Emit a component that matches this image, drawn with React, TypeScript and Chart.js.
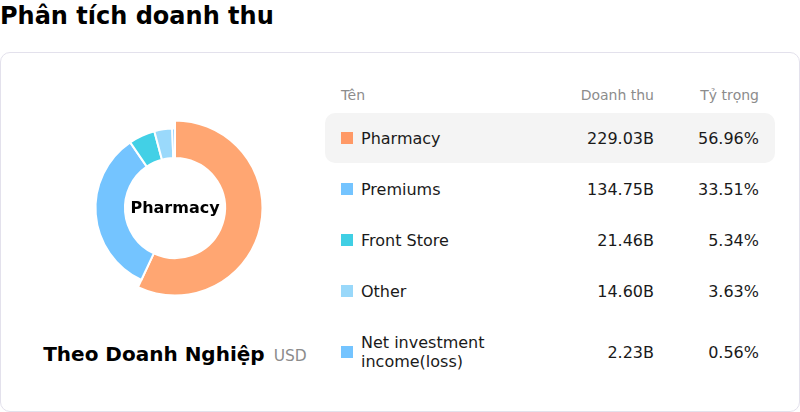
import React, { useEffect, useRef } from "react";
import Chart from "chart.js/auto";

const segments = ["Pharmacy", "Premiums", "Front Store", "Other", "Net investment income(loss)"];
const revenue = [229.03, 134.75, 21.46, 14.6, 2.23];
const revenueLabels = ["229.03B", "134.75B", "21.46B", "14.60B", "2.23B"];
const shareLabels = ["56.96%", "33.51%", "5.34%", "3.63%", "0.56%"];
const sliceColors = ["#ffa672", "#74c4ff", "#42d0e6", "#9ad9fb", "#74c4ff"];
const legendColors = ["#ff9966", "#74c4ff", "#40cfe4", "#99d8fa", "#74c4ff"];
const activeIndex = 0;

const FONT = "'DejaVu Sans', sans-serif";

// the selected slice is drawn with a bigger outer radius
const enlargeActive = {
  id: "enlargeActive",
  beforeDatasetsDraw(chart: any) {
    const meta = chart.getDatasetMeta(0);
    const arc = meta.data[activeIndex];
    if (arc) arc.outerRadius = 87.5;
  }
};

const Donut: React.FC = () => {
  const canvasRef = useRef<HTMLCanvasElement | null>(null);

  useEffect(() => {
    if (!canvasRef.current) return;
    const chart = new Chart(canvasRef.current, {
      type: "doughnut",
      data: {
        labels: segments,
        datasets: [
          {
            data: revenue,
            backgroundColor: sliceColors,
            borderColor: "#ffffff",
            borderWidth: 2
          }
        ]
      },
      options: {
        animation: false,
        responsive: false,
        radius: 79.5,
        cutout: "63%",
        events: [],
        plugins: { legend: { display: false }, tooltip: { enabled: false } }
      },
      plugins: [enlargeActive]
    });
    return () => chart.destroy();
  }, []);

  return <canvas ref={canvasRef} width={200} height={200} style={{ width: 200, height: 200 }} />;
};

const App: React.FC = () => {
  return (
    <div style={{ position: "fixed", left: 0, top: 0, width: 800, height: 412, fontFamily: FONT, overflow: "hidden", background: "#fff" }}>
      <div style={{ position: "absolute", left: 0, top: 0, fontSize: 24, fontWeight: "bold", lineHeight: "32px", color: "#000" }}>
        Phân tích doanh thu
      </div>
      <div style={{
        position: "absolute",
        left: 0,
        top: 52,
        width: 800,
        height: 360,
        boxSizing: "border-box",
        border: "1px solid #e3e1ec",
        borderRadius: 10,
        background: "#fff"
      }} />
      <div style={{ position: "absolute", left: 75, top: 107.5, width: 200, height: 200 }}>
        <Donut />
        <div style={{
          position: "absolute", left: 0, top: 0, width: 200, height: 200,
          display: "flex", alignItems: "center", justifyContent: "center",
          fontSize: 16, fontWeight: "bold", color: "#000"
        }}>
          {segments[activeIndex]}
        </div>
      </div>
      <div style={{
        position: "absolute", left: 0, width: 350, top: 342, height: 30,
        display: "flex", justifyContent: "center", alignItems: "baseline", gap: 9
      }}>
        <span style={{ fontSize: 20, fontWeight: "bold", color: "#000" }}>Theo Doanh Nghiệp</span>
        <span style={{ fontSize: 15.5, color: "#8c8c8c" }}>USD</span>
      </div>
      <div style={{ position: "absolute", left: 325, top: 83, width: 450 }}>
        <div style={{ display: "flex", alignItems: "center", height: 24, padding: "0 16px", fontSize: 14, color: "#8c8c8c" }}>
          <div style={{ width: 160 }}>Tên</div>
          <div style={{ width: 153, textAlign: "right" }}>Doanh thu</div>
          <div style={{ width: 105, textAlign: "right" }}>Tỷ trọng</div>
        </div>
        <div style={{ display: "flex", flexDirection: "column", gap: 1, marginTop: 6 }}>
          {segments.map((name, i) => (
            <div key={name} style={{
              display: "flex",
              alignItems: "center",
              height: i === segments.length - 1 ? 70 : 50,
              padding: "0 16px",
              borderRadius: 10,
              background: i === activeIndex ? "#f4f4f4" : "transparent",
              fontSize: 16,
              lineHeight: "19px",
              color: "#1a1a1a"
            }}>
              <div style={{ width: 160, display: "flex", alignItems: "center" }}>
                <span style={{ width: 12, height: 12, background: legendColors[i], marginRight: 8, flexShrink: 0 }} />
                <span style={{ width: 135 }}>{name}</span>
              </div>
              <div style={{ width: 153, textAlign: "right" }}>{revenueLabels[i]}</div>
              <div style={{ width: 105, textAlign: "right" }}>{shareLabels[i]}</div>
            </div>
          ))}
        </div>
      </div>
    </div>
  );
};

export default App;
